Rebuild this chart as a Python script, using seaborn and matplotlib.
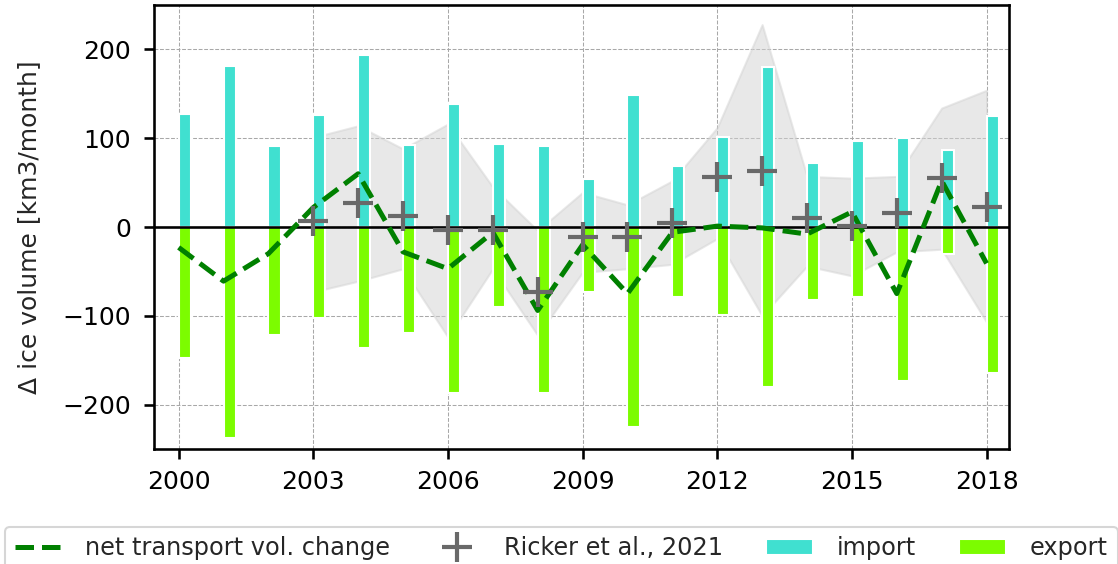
import matplotlib
matplotlib.use("Agg")
import matplotlib.pyplot as plt
import seaborn as sns
from matplotlib.lines import Line2D
from matplotlib.patches import Patch

# Monthly sea-ice volume transport per year
years = list(range(2000, 2019))
import_vol = [127, 181, 91, 126, 194, 92, 139, 94, 91, 54, 149, 69, 101, 180, 72, 97, 100, 87, 125]
export_vol = [-147, -238, -122, -102, -136, -119, -187, -90, -187, -73, -225, -79, -99, -180, -82, -79, -173, -30, -164]
net_change = [-23, -61, -30, 22, 60, -28, -47, -6, -94, -20, -75, -6, 1, -1, -8, 17, -75, 52, -41]

# Ricker et al. (2021) estimates with uncertainty range
ricker_years = list(range(2003, 2019))
ricker_vol = [7, 27, 12, -3, -3, -73, -11, -11, 4, 56, 63, 10, 1, 16, 55, 23]
ricker_low = [-73, -61, -47, -124, -47, -122, -51, -47, -42, -13, -100, -44, -55, -28, -25, -107]
ricker_high = [101, 114, 88, 116, 45, -4, 39, 25, 52, 112, 228, 57, 55, 57, 134, 154]

sns.set_style("ticks")
plt.rcParams.update({
    "font.family": ["DejaVu Sans"],
    "font.size": 12,
    "axes.linewidth": 1.25,
    "xtick.major.size": 5,
    "ytick.major.size": 5,
    "xtick.major.width": 1.25,
    "ytick.major.width": 1.25,
    "xtick.major.pad": 5,
    "ytick.major.pad": 6,
    "xtick.color": "black",
    "ytick.color": "black",
    "axes.edgecolor": "black",
})

fig = plt.figure(figsize=(1118 / 150, 564 / 150), dpi=150)
ax = fig.add_axes([0.1377, 0.204, 0.7648, 0.787])

ax.grid(True, linestyle="--", linewidth=0.5, color="#a8a8a8", zorder=0)
ax.set_axisbelow(True)

bar_w = 0.27
ax.bar(years, import_vol, width=bar_w, align="edge", color="turquoise", zorder=2)
ax.bar(years, export_vol, width=bar_w, align="edge", color="lawngreen", zorder=2)

ax.fill_between(ricker_years, ricker_low, ricker_high, color="lightgray",
                alpha=0.5, zorder=1)

ax.axhline(0, color="black", linewidth=1.25, zorder=3)

sns.lineplot(x=years, y=net_change, ax=ax, color="green", linestyle="--",
             linewidth=2.4, zorder=4)
sns.scatterplot(x=ricker_years, y=ricker_vol, ax=ax, marker="+", s=220,
                color="dimgray", linewidth=2, zorder=5)

ax.set_xlim(1999.45, 2018.5)
ax.set_ylim(-250, 250)
ax.set_xticks(range(2000, 2019, 3))
ax.set_yticks([-200, -100, 0, 100, 200])
ax.set_xlabel("")
ax.set_ylabel("Δ ice volume [km3/month]", labelpad=10)

handles = [
    Line2D([], [], color="green", linestyle="--", linewidth=2.4),
    Line2D([], [], color="dimgray", marker="+", linestyle="", markersize=14,
           markeredgewidth=2),
    Patch(facecolor="turquoise"),
    Patch(facecolor="lawngreen"),
]
labels = ["net transport vol. change", "Ricker et al., 2021", "import", "export"]
fig.legend(handles, labels, loc="upper center", bbox_to_anchor=(0.502, 0.066),
           borderaxespad=0, ncol=4, fontsize=11.5, handlelength=1.95,
           handletextpad=1.0, columnspacing=1.8, frameon=True)

fig.savefig("out.png", dpi=150)
